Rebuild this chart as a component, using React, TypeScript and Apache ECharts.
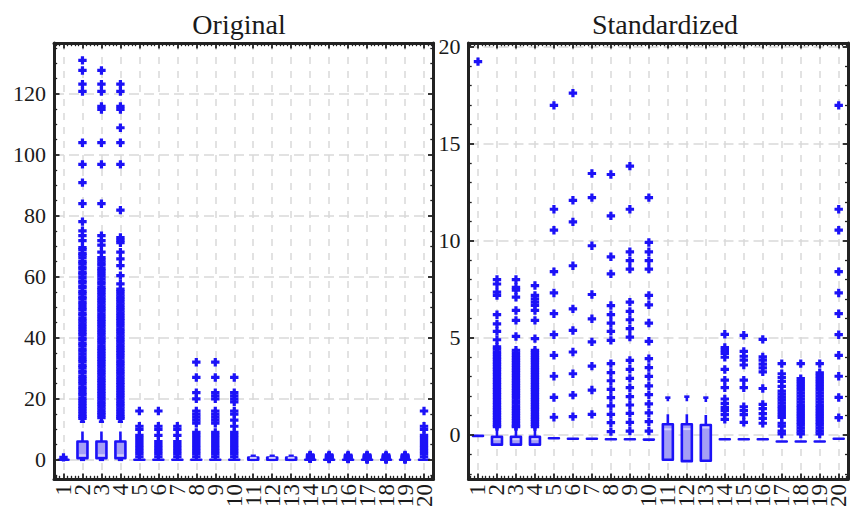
import React, { useEffect, useRef } from 'react';
import * as echarts from 'echarts';

// ---------------- data ----------------
const categories = ['1','2','3','4','5','6','7','8','9','10','11','12','13','14','15','16','17','18','19','20'];

const originalTicks = [0, 20, 40, 60, 80, 100, 120];
const standardizedTicks = [0, 5, 10, 15, 20];

// [min, Q1, median, Q3, max]
const originalBoxes: number[][] = [
  [0, 0, 0, 0, 0],
  [0, 0.5, 1.5, 6.0, 12.5],
  [0, 0.5, 1.5, 6.0, 12.5],
  [0, 0.5, 1.5, 6.0, 12.5],
  [0, 0, 0, 0, 0],
  [0, 0, 0, 0, 0],
  [0, 0, 0, 0, 0],
  [0, 0, 0, 0, 0],
  [0, 0, 0, 0, 0],
  [0, 0, 0, 0, 0],
  [0, 0.02, 0.62, 0.72, 1.3],
  [0, 0.02, 0.62, 0.72, 1.3],
  [0, 0.02, 0.65, 0.7, 1.3],
  [0, 0, 0, 0, 0],
  [0, 0, 0, 0, 0],
  [0, 0, 0, 0, 0],
  [0, 0, 0, 0, 0],
  [0, 0, 0, 0, 0],
  [0, 0, 0, 0, 0],
  [0, 0, 0, 0, 0],
];

const origDense2 = [69.6, 68.9, 67.7, 67.1, 66.2, 65.0, 64.4, 63.3, 62.6, 61.5, 60.9, 59.8, 58.7, 58.1, 57.0, 56.4, 55.2, 54.6, 53.4, 52.9, 51.8, 51.0, 49.9, 49.2, 48.0, 47.4, 46.3, 45.5, 44.6, 43.7, 42.8, 41.9, 41.1, 40.0, 39.3, 38.2, 37.5, 36.4, 35.6, 34.7, 33.8, 32.9, 32.1, 31.0, 30.3, 29.2, 28.5, 27.4, 26.6, 25.7, 24.9, 23.8, 23.1, 22.0, 21.3, 20.2, 19.4, 18.5, 17.6, 16.8, 15.9, 15.0, 14.2, 13.6];
const origDense3 = [66.3, 65.5, 64.6, 63.8, 62.7, 62.0, 61.1, 60.2, 59.3, 58.4, 57.6, 56.5, 55.8, 54.9, 54.0, 53.1, 52.3, 51.4, 50.5, 49.6, 48.8, 47.9, 47.0, 46.1, 45.3, 44.4, 43.5, 42.6, 41.8, 40.9, 40.0, 39.2, 38.3, 37.4, 36.5, 35.7, 34.8, 33.9, 33.0, 32.2, 31.3, 30.4, 29.5, 28.7, 27.8, 26.9, 26.0, 25.2, 24.3, 23.4, 22.5, 21.7, 20.8, 19.9, 19.0, 18.2, 17.3, 16.4, 15.5, 14.7, 13.8];
const origDense4 = [56.0, 55.2, 54.3, 53.4, 52.6, 51.7, 50.8, 49.9, 49.1, 48.2, 47.3, 46.4, 45.6, 44.7, 43.8, 42.9, 42.1, 41.2, 40.3, 39.4, 38.6, 37.7, 36.8, 35.9, 35.1, 34.2, 33.3, 32.4, 31.6, 30.7, 29.8, 28.9, 28.1, 27.2, 26.3, 25.4, 24.6, 23.7, 22.8, 21.9, 21.1, 20.2, 19.3, 18.4, 17.6, 16.7, 15.8, 14.9, 14.1, 13.6];

const originalOutliers: number[][] = [
  [0.8],
  [131.0, 127.7, 123.2, 120.8, 104.0, 96.9, 90.9, 84.0, 78.1, 75.1, 73.5, 71.9, ...origDense2],
  [127.7, 123.2, 120.8, 115.9, 114.9, 104.0, 96.9, 84.0, 73.5, 71.9, 70.4, 68.1, ...origDense3],
  [123.2, 120.8, 115.9, 114.9, 108.9, 104.0, 96.9, 81.9, 72.9, 72.0, 71.2, 68.1, 65.9, 63.7, 60.4, 57.7, ...origDense4],
  [1, 2, 3, 4, 5, 6, 7, 8, 10, 11, 16],
  [1, 2, 3, 4, 5, 6, 8, 10, 11, 16],
  [1, 2, 3, 4, 5, 6, 8, 10, 11],
  [1, 2, 3, 4, 5, 6, 7, 8, 9, 12, 13, 14, 15, 16, 20, 22, 27, 32],
  [1, 2, 3, 4, 5, 6, 7, 8, 9, 12, 13, 14, 15, 16, 20, 21, 22, 27, 32],
  [1, 2, 3, 4, 5, 6, 7, 8, 9, 11, 13, 15, 16, 19, 20, 21, 22, 27],
  [],
  [],
  [],
  [1.6, 1.4, 1.35, 1.3, 1.25, 1.05, 0.9, 0.8, 0.62, 0.55, 0.5, 0.44, 0.38, 0.3],
  [1.6, 1.35, 1.28, 1.2, 1.15, 0.9, 0.8, 0.5, 0.44, 0.37, 0.25],
  [1.55, 1.28, 1.22, 1.16, 1.1, 1.04, 0.78, 0.53, 0.46, 0.38, 0.3, 0.24],
  [1.6, 1.4, 1.3, 1.2, 1.1, 1.0, 0.9, 0.8, 0.7, 0.6, 0.5, 0.4, 0.3, 0.2, 0.1],
  [1.6, 1.3, 1.2, 1.1, 1.0, 0.9, 0.8, 0.7, 0.6, 0.5, 0.4, 0.3, 0.2, 0.1],
  [1.6, 1.4, 1.3, 1.2, 1.1, 1.0, 0.9, 0.8, 0.7, 0.6, 0.5, 0.4, 0.3, 0.2, 0.1],
  [1, 2, 3, 4, 5, 6, 7, 8, 10, 11, 16],
];

const standardizedBoxes: number[][] = [
  [-0.05, -0.05, -0.05, -0.05, -0.05],
  [-0.5, -0.5, -0.22, -0.1, 0.43],
  [-0.5, -0.5, -0.22, -0.1, 0.43],
  [-0.5, -0.5, -0.22, -0.1, 0.43],
  [-0.17, -0.17, -0.17, -0.17, -0.17],
  [-0.2, -0.2, -0.2, -0.2, -0.2],
  [-0.2, -0.2, -0.2, -0.2, -0.2],
  [-0.22, -0.22, -0.22, -0.22, -0.22],
  [-0.22, -0.22, -0.22, -0.22, -0.22],
  [-0.24, -0.24, -0.24, -0.24, -0.24],
  [-1.28, -1.28, 0.29, 0.55, 1.92],
  [-1.35, -1.35, 0.3, 0.55, 1.97],
  [-1.33, -1.33, 0.38, 0.51, 1.92],
  [-0.22, -0.22, -0.22, -0.22, -0.22],
  [-0.22, -0.22, -0.22, -0.22, -0.22],
  [-0.22, -0.22, -0.22, -0.22, -0.22],
  [-0.34, -0.34, -0.34, -0.34, -0.34],
  [-0.34, -0.34, -0.34, -0.34, -0.34],
  [-0.34, -0.34, -0.34, -0.34, -0.34],
  [-0.2, -0.2, -0.2, -0.2, -0.2],
];

const stdDense2 = [4.53, 4.41, 4.27, 4.15, 4.01, 3.89, 3.75, 3.63, 3.49, 3.37, 3.23, 3.11, 2.97, 2.85, 2.71, 2.59, 2.45, 2.33, 2.19, 2.07, 1.93, 1.81, 1.67, 1.55, 1.41, 1.29, 1.15, 1.03, 0.89, 0.77, 0.63, 0.51, 0.43];
const stdDense3 = [4.36, 4.23, 4.1, 3.97, 3.84, 3.71, 3.58, 3.45, 3.32, 3.19, 3.06, 2.93, 2.8, 2.67, 2.54, 2.41, 2.28, 2.15, 2.02, 1.89, 1.76, 1.63, 1.5, 1.37, 1.24, 1.11, 0.98, 0.85, 0.72, 0.59, 0.46, 0.43];
const stdDense4 = [4.36, 4.24, 4.11, 3.98, 3.86, 3.73, 3.6, 3.47, 3.35, 3.22, 3.09, 2.96, 2.84, 2.71, 2.58, 2.45, 2.33, 2.2, 2.07, 1.94, 1.82, 1.69, 1.56, 1.43, 1.31, 1.18, 1.05, 0.92, 0.8, 0.67, 0.54, 0.43];

const standardizedOutliers: number[][] = [
  [19.22],
  [8.0, 7.77, 7.35, 7.18, 6.19, 5.72, 5.33, 4.9, ...stdDense2],
  [8.0, 7.6, 7.45, 7.09, 6.41, 5.9, 5.07, ...stdDense3],
  [7.69, 7.18, 7.0, 6.84, 6.67, 6.41, 5.9, 4.96, ...stdDense4],
  [0.91, 1.93, 3.02, 4.1, 5.16, 6.24, 7.31, 8.41, 10.54, 11.62, 16.97],
  [0.94, 2.05, 3.15, 4.27, 5.38, 6.49, 8.71, 10.97, 12.08, 17.6],
  [1.06, 2.31, 3.54, 4.79, 5.98, 7.23, 9.74, 12.22, 13.46],
  [0.17, 0.63, 1.06, 1.49, 1.92, 2.34, 2.79, 3.21, 3.67, 4.87, 5.33, 5.76, 6.19, 6.66, 8.29, 9.17, 11.28, 13.41],
  [0.2, 0.65, 1.11, 1.54, 1.97, 2.43, 2.91, 3.38, 3.84, 5.04, 5.47, 5.93, 6.36, 6.84, 8.54, 8.97, 9.43, 11.62, 13.84],
  [0.2, 0.68, 1.14, 1.6, 2.07, 2.53, 3.01, 3.47, 3.93, 4.82, 5.76, 6.7, 7.18, 8.54, 8.97, 9.43, 9.91, 12.22],
  [],
  [],
  [],
  [5.18, 4.5, 4.35, 4.2, 4.0, 3.37, 2.82, 2.43, 1.85, 1.62, 1.42, 1.25, 1.05, 0.8],
  [5.13, 4.3, 4.05, 3.85, 3.6, 2.82, 2.43, 1.45, 1.25, 1.05, 0.65],
  [4.92, 4.02, 3.85, 3.65, 3.45, 3.25, 2.39, 1.57, 1.35, 1.1, 0.85, 0.6],
  [3.67, 3.15, 2.95, 2.75, 2.5, 2.25, 2.1, 1.95, 1.8, 1.65, 1.5, 1.35, 1.2, 1.05, 0.9, 0.6, 0.45, 0.2, 0.05],
  [3.67, 2.9, 2.75, 2.6, 2.45, 2.3, 2.15, 2.0, 1.85, 1.7, 1.55, 1.4, 1.25, 1.1, 0.95, 0.8, 0.65, 0.5, 0.35, 0.2, 0.05],
  [3.67, 3.2, 3.05, 2.9, 2.75, 2.6, 2.45, 2.3, 2.15, 2.0, 1.85, 1.7, 1.55, 1.4, 1.25, 1.1, 0.95, 0.8, 0.65, 0.5, 0.35, 0.2, 0.05],
  [0.89, 1.93, 3.02, 4.1, 5.16, 6.24, 7.31, 8.41, 10.54, 11.62, 16.97],
];

// ---------------- style ----------------
const BLUE = '#1c12f7';
const FILL = '#a49ff5';
const MEDIAN = '#d0ccfb';
const GRIDC = '#d9d9d9';
const AXISC = '#222222';
const TEXTC = '#1a1a1a';
const FONT = "'Liberation Serif', 'Times New Roman', serif";
const PLUS = 'path://M3.4,0H7.6V3.4H11V7.6H7.6V11H3.4V7.6H0V3.4H3.4Z';

const renderBox = (_params: any, api: any) => {
  const x = api.value(0);
  const mn = api.value(1), q1 = api.value(2), md = api.value(3), q3 = api.value(4), mx = api.value(5);
  const pMin = api.coord([x, mn]);
  const pQ1 = api.coord([x, q1]);
  const pMd = api.coord([x, md]);
  const pQ3 = api.coord([x, q3]);
  const pMx = api.coord([x, mx]);
  const cx = pQ1[0];
  const hw = 5;
  const cw = 2.6;
  const lw = 2.6;
  const dash = [10, 13];
  const children: any[] = [];
  if (mx > q3) {
    children.push({ type: 'line', shape: { x1: cx, y1: pQ3[1], x2: cx, y2: pMx[1] }, style: { stroke: BLUE, lineWidth: lw, lineDash: dash } });
    children.push({ type: 'line', shape: { x1: cx - cw, y1: pMx[1], x2: cx + cw, y2: pMx[1] }, style: { stroke: BLUE, lineWidth: lw } });
  }
  if (mn < q1) {
    children.push({ type: 'line', shape: { x1: cx, y1: pQ1[1], x2: cx, y2: pMin[1] }, style: { stroke: BLUE, lineWidth: lw, lineDash: dash } });
    children.push({ type: 'line', shape: { x1: cx - cw, y1: pMin[1], x2: cx + cw, y2: pMin[1] }, style: { stroke: BLUE, lineWidth: lw } });
  }
  children.push({
    type: 'rect',
    shape: { x: cx - hw, y: pQ3[1], width: 2 * hw, height: pQ1[1] - pQ3[1] },
    style: { fill: FILL, stroke: BLUE, lineWidth: lw, lineJoin: 'round' },
  });
  if (q3 > q1) {
    children.push({ type: 'line', shape: { x1: cx - hw + 1.6, y1: pMd[1], x2: cx + hw - 1.6, y2: pMd[1] }, style: { stroke: MEDIAN, lineWidth: 2 } });
  }
  return { type: 'group', children };
};

type PanelCfg = {
  idx: number;
  left: number;
  width: number;
  min: number;
  max: number;
  major: number;
  minorSplit: number;
  ticks: number[];
  boxes: number[][];
  outliers: number[][];
};

function buildPanel(cfg: PanelCfg) {
  const g = cfg.idx;
  const xBase = g * 4;
  const yBase = g * 3;
  const grid = { left: cfg.left, top: 43, width: cfg.width, height: 438, containLabel: false };
  const tickStyle = { color: AXISC, width: 1.8 };
  const minorStyle = { color: AXISC, width: 1.3 };
  const frameX = (pos: string) => ({
    type: 'value', gridIndex: g, position: pos, min: 0.5, max: 20.5, minInterval: 1, maxInterval: 1, z: 5,
    axisLine: { show: true, onZero: false, lineStyle: { color: AXISC, width: 3 } },
    axisTick: { show: true, inside: true, length: 5.5, lineStyle: tickStyle },
    minorTick: { show: true, splitNumber: 5, length: 3.2, lineStyle: minorStyle },
    axisLabel: { show: false }, splitLine: { show: false },
  });
  const frameY = (pos: string, labels: boolean) => ({
    type: 'value', gridIndex: g, position: pos, min: cfg.min, max: cfg.max, minInterval: cfg.major, maxInterval: cfg.major, z: 5,
    axisLine: { show: true, onZero: false, lineStyle: { color: AXISC, width: 3 } },
    axisTick: { show: true, inside: true, length: 5.5, lineStyle: tickStyle },
    minorTick: { show: true, splitNumber: cfg.minorSplit, length: 3.2, lineStyle: minorStyle },
    axisLabel: {
      show: labels, margin: 8, fontSize: 22, fontFamily: FONT, color: TEXTC,
      formatter: (v: number) => (cfg.ticks.includes(Math.round(v * 1000) / 1000) ? String(v) : ''),
    },
    splitLine: { show: false },
  });
  const xAxes = [
    {
      type: 'category', gridIndex: g, data: categories, boundaryGap: true, position: 'bottom',
      axisLine: { show: false, onZero: false }, axisTick: { show: false }, splitLine: { show: false },
      axisLabel: { rotate: 90, interval: 0, fontSize: 23, margin: 5, fontFamily: FONT, color: TEXTC },
    },
    {
      type: 'value', gridIndex: g, position: 'bottom', min: 0.5, max: 20.5, minInterval: 1, maxInterval: 1, z: 1,
      axisLine: { show: false, onZero: false }, axisTick: { show: false }, axisLabel: { show: false },
      splitLine: { show: true, lineStyle: { color: GRIDC, width: 1.5, type: [7, 7] } },
    },
    frameX('bottom'),
    frameX('top'),
  ];
  const yAxes = [
    frameY('left', true),
    frameY('right', false),
    {
      type: 'value', gridIndex: g, position: 'left', min: cfg.min, max: cfg.max, minInterval: cfg.major, maxInterval: cfg.major, z: 1,
      axisLine: { show: false, onZero: false }, axisTick: { show: false }, axisLabel: { show: false },
      splitLine: { show: true, lineStyle: { color: GRIDC, width: 1.5, type: [10, 5] } },
    },
  ];
  const boxData = cfg.boxes.map((b, i) => [i, ...b]);
  const outData: number[][] = [];
  cfg.outliers.forEach((arr, i) => arr.forEach((v) => outData.push([i, v])));
  const series = [
    {
      type: 'custom', xAxisIndex: xBase, yAxisIndex: yBase, renderItem: renderBox,
      data: boxData, encode: { x: 0, y: [1, 2, 3, 4, 5] }, z: 3, clip: false,
    },
    {
      type: 'scatter', xAxisIndex: xBase, yAxisIndex: yBase, data: outData,
      symbol: PLUS, symbolSize: 8.4, itemStyle: { color: BLUE, opacity: 1 }, z: 4,
    },
  ];
  return { grid, xAxes, yAxes, series };
}

export default function App() {
  const ref = useRef<HTMLDivElement>(null);
  useEffect(() => {
    if (!ref.current) return;
    const chart = echarts.init(ref.current, undefined, { renderer: 'svg' });
    const p1 = buildPanel({
      idx: 0, left: 54, width: 379.5, min: -6.3, max: 136.7, major: 20, minorSplit: 4,
      ticks: originalTicks, boxes: originalBoxes, outliers: originalOutliers,
    });
    const p2 = buildPanel({
      idx: 1, left: 468.5, width: 388, min: -2.27, max: 20.18, major: 5, minorSplit: 5,
      ticks: standardizedTicks, boxes: standardizedBoxes, outliers: standardizedOutliers,
    });
    chart.setOption({
      animation: false,
      backgroundColor: '#ffffff',
      grid: [p1.grid, p2.grid],
      xAxis: [...p1.xAxes, ...p2.xAxes],
      yAxis: [...p1.yAxes, ...p2.yAxes],
      series: [...p1.series, ...p2.series],
      graphic: [
        { type: 'text', x: 239, y: 24, style: { text: 'Original', font: `28px ${FONT}`, fill: TEXTC, textAlign: 'center', textVerticalAlign: 'middle' } },
        { type: 'text', x: 665, y: 24, style: { text: 'Standardized', font: `28px ${FONT}`, fill: TEXTC, textAlign: 'center', textVerticalAlign: 'middle' } },
      ],
    });
    return () => chart.dispose();
  }, []);
  return (
    <div
      ref={ref}
      style={{ position: 'fixed', left: 0, top: 0, width: 850, height: 510, background: '#fff' }}
    />
  );
}
